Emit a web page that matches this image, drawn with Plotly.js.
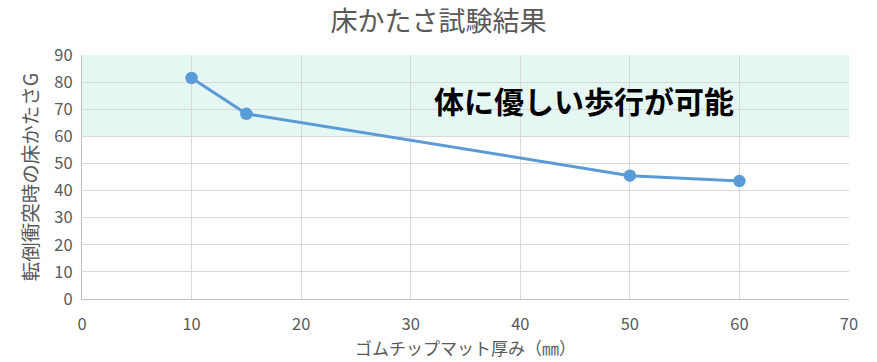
<!DOCTYPE html>
<html><head><meta charset="utf-8">
<script src="https://cdn.plot.ly/plotly-3.0.1.min.js"></script>
<style>html,body{margin:0;padding:0;background:#fff;}#chart{width:877px;height:362px;}</style>
</head><body><div id="chart"></div>
<script>
const thickness = [10, 15, 50, 60];
const gForce = [81.5, 68.3, 45.5, 43.5];
const bandRange = [60, 90];
const chartTitle = '床かたさ試験結果';
const xTitle = 'ゴムチップマット厚み（㎜）';
const yTitle = '転倒衝突時の床かたさG';
const note = '体に優しい歩行が可能';

const font = '"Noto Sans CJK JP", "Open Sans", sans-serif';
const grey = '#595959';

Plotly.newPlot('chart', [{
  x: thickness, y: gForce, type: 'scatter', mode: 'lines+markers',
  line: {color: '#5B9BD5', width: 3},
  marker: {color: '#5B9BD5', size: 12.5},
  hoverinfo: 'skip'
}], {
  width: 877, height: 362,
  margin: {l: 82, r: 28, t: 55, b: 63},
  paper_bgcolor: '#fff', plot_bgcolor: '#fff',
  showlegend: false,
  title: {text: chartTitle, x: 0.5, xanchor: 'center', y: 0.94, yanchor: 'middle',
          font: {family: font, size: 27, color: grey}},
  xaxis: {range: [0, 70], dtick: 10, tick0: 0, showgrid: true, gridcolor: '#D9D9D9',
          zeroline: false, showline: true, linecolor: '#BFBFBF', mirror: false,
          ticks: 'outside', ticklen: 10, tickcolor: 'rgba(0,0,0,0)',
          tickfont: {family: font, size: 16.5, color: grey},
          title: {text: xTitle, font: {family: font, size: 17, color: grey}, standoff: 0}},
  yaxis: {range: [0, 90], dtick: 10, tick0: 0, showgrid: true, gridcolor: '#D9D9D9',
          zeroline: false, showline: true, linecolor: '#BFBFBF',
          ticks: 'outside', ticklen: 5, tickcolor: 'rgba(0,0,0,0)',
          tickfont: {family: font, size: 16.5, color: grey},
          title: {text: yTitle, font: {family: font, size: 19.5, color: grey}, standoff: 10}},
  shapes: [{type: 'rect', xref: 'paper', yref: 'y', x0: 0, x1: 1, y0: bandRange[0], y1: bandRange[1],
            fillcolor: '#E4F7F3', line: {width: 0}, layer: 'below'}],
  annotations: [{text: '<b>' + note + '</b>', xref: 'x', yref: 'y', x: 45.8, y: 73.4, showarrow: false,
                 font: {family: font, size: 30, color: '#000'}}]
}, {displayModeBar: false, staticPlot: true});
</script></body></html>
